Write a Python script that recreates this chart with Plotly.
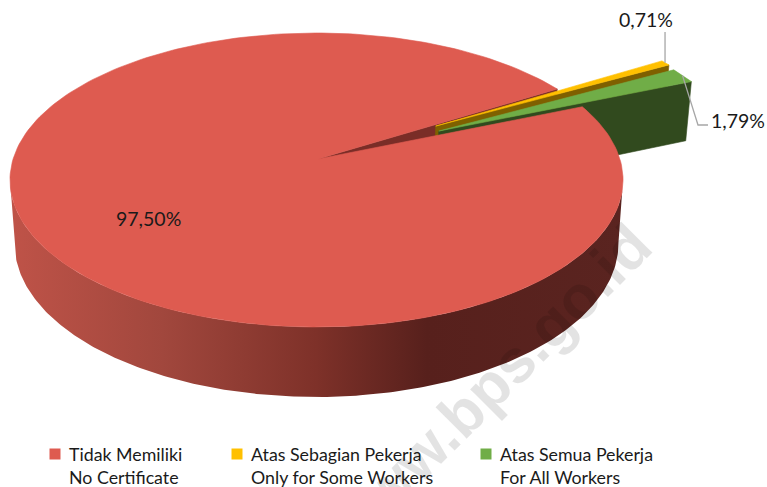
import numpy as np
import plotly.graph_objects as go

# Data
names_id = ["Tidak Memiliki", "Atas Sebagian Pekerja", "Atas Semua Pekerja"]
names_en = ["No Certificate", "Only for Some Workers", "For All Workers"]
values = [97.50, 0.71, 1.79]
top_colors = ["#DE5B50", "#FFC000", "#70AD47"]
cut_colors = ["#7A2D27", "#7F6000", "#314A1E"]
watermark = "www.bps.go.id"

# Projection of the pie's plane onto the page (pixel axes)
CX, CY, A, B, K = 316.5, 159.0, 303.4, 144.0, 1 / 7
SX, SY, DY = 0.985, 1.044, 55.6      # lower face relative to upper face
START = 58.5                         # clock angle where the second slice starts
EXPLODE_Y, EXPLODE_G = 0.47, 0.46
APEX_DX = 1.5                        # the red slice's tip sits slightly right of centre


def top(th, off=(0.0, 0.0)):
    th = np.radians(np.asarray(th, dtype=float))
    u = off[0] + np.sin(th)
    v = off[1] - np.cos(th)
    w = 1 - K * v
    return CX + A * u / w, CY + B * v / w


def to_bottom(x, y):
    return CX + SX * (x - CX), SY * y + DY


def pt0(off, dx=0.0):
    w = 1 - K * off[1]
    return CX + dx + A * off[0] / w, CY + B * off[1] / w


deg = [v / sum(values) * 360 for v in values]
a_y0, a_y1 = START, START + deg[1]
a_g0, a_g1 = a_y1, a_y1 + deg[2]
mid_y, mid_g = (a_y0 + a_y1) / 2, (a_g0 + a_g1) / 2


def offs(m, e):
    r = np.radians(m)
    return e * np.sin(r), -e * np.cos(r)


off_y, off_g = offs(mid_y, EXPLODE_Y), offs(mid_g, EXPLODE_G)


def poly(x, y, color, **kw):
    return go.Scatter(x=list(x), y=list(y), mode="lines", fill="toself", fillcolor=color,
                      line=dict(width=0.6, color=color), hoverinfo="skip", showlegend=False, **kw)


def cut(theta, off, color, dx=0.0):
    ax, ay = pt0(off, dx)
    tx, ty = top([theta], off)
    bax, bay = to_bottom(ax, ay)
    btx, bty = to_bottom(tx[0], ty[0])
    return poly([ax, tx[0], btx, bax, ax], [ay, ty[0], bty, bay, ay], color)


def wedge(t0, t1, off, color, dx=0.0, **kw):
    th = np.linspace(t0, t1, 240)
    x, y = top(th, off)
    ax, ay = pt0(off, dx)
    return poly([ax, *x, ax], [ay, *y, ay], color, **kw)


fig = go.Figure()

# red inner cut face
fig.add_trace(cut(a_y0, (0.0, 0.0), cut_colors[0], APEX_DX))

# red outer side with horizontal shading
th = np.linspace(98, 262, 240)
sx, sy = top(th)
bx, by = to_bottom(sx, sy)
fig.add_trace(go.Scatter(
    x=[*sx, *bx[::-1], sx[0]], y=[*sy, *by[::-1], sy[0]], mode="lines", fill="toself",
    line=dict(width=0), hoverinfo="skip", showlegend=False,
    fillgradient=dict(type="horizontal", colorscale=[
        [0.0, "#BF5348"], [0.25, "#A1473D"], [0.5, "#7E3129"], [0.68, "#57201C"],
        [1.0, "#5A2420"]])))

# exploded slices
fig.add_trace(cut(a_y1, off_y, cut_colors[1]))
fig.add_trace(wedge(a_y0, a_y1, off_y, top_colors[1]))
fig.add_trace(cut(a_g1, off_g, cut_colors[2]))
fig.add_trace(wedge(a_g0, a_g1, off_g, top_colors[2]))

# second subplot, same frame: its shape layer lies over the side walls, its traces over the shape
fig.add_trace(wedge(a_g1, a_y0 + 360, (0.0, 0.0), top_colors[0], APEX_DX, xaxis="x2", yaxis="y2"))

# leader lines
lx, ly = top([mid_y], off_y)
fig.add_trace(go.Scatter(x=[lx[0], lx[0]], y=[ly[0], 32], mode="lines", xaxis="x2", yaxis="y2",
                         line=dict(color="#A6A6A6", width=1.3), hoverinfo="skip", showlegend=False))
gx, gy = top([mid_g], off_g)
fig.add_trace(go.Scatter(x=[gx[0], 698, 708], y=[gy[0], 125, 125], mode="lines", xaxis="x2", yaxis="y2",
                         line=dict(color="#A6A6A6", width=1.3), hoverinfo="skip", showlegend=False))

# legend swatches
leg_x = [55, 237, 486]
fig.add_trace(go.Scatter(x=leg_x, y=[454] * 3, mode="markers", xaxis="x2", yaxis="y2",
                         marker=dict(symbol="square", size=11, color=top_colors, line=dict(width=0)),
                         hoverinfo="skip", showlegend=False))

font = dict(family="Lato, Carlito, sans-serif", size=17.8, color="#1A1A1A")
ann = []
for i, (a, b) in enumerate(zip(names_id, names_en)):
    ann.append(dict(x=leg_x[i] + 12, y=465, xref="x", yref="y", xanchor="left", yanchor="middle",
                    align="left", text=f"{a}<br>{b}", showarrow=False, font=font))
labels = [f"{v:.2f}".replace(".", ",") + "%" for v in values]
for t, x, y in zip(labels, [148.5, 646, 738], [218, 19, 120]):
    ann.append(dict(x=x, y=y, xref="x", yref="y", text=t, showarrow=False,
                    font=dict(family=font["family"], size=19.5, color="#1A1A1A")))

axis = dict(visible=False, fixedrange=True)
fig.update_layout(
    width=767, height=487, margin=dict(l=0, r=0, t=0, b=0),
    paper_bgcolor="rgba(0,0,0,0)", plot_bgcolor="rgba(0,0,0,0)", showlegend=False,
    xaxis=dict(range=[0, 767], domain=[0, 1], anchor="y", **axis),
    yaxis=dict(range=[487, 0], domain=[0, 1], anchor="x", **axis),
    xaxis2=dict(range=[0, 767], domain=[0, 1], anchor="y2", **axis),
    yaxis2=dict(range=[487, 0], domain=[0, 1], anchor="x2", **axis),
    annotations=ann,
    shapes=[dict(type="rect", xref="x2", yref="y2", x0=295, x1=675, y0=192, y1=572, layer="below",
                 line=dict(width=0), fillcolor="rgba(0,0,0,0)",
                 label=dict(text=watermark, textangle=-45, textposition="middle center",
                            font=dict(family="Liberation Sans", size=61, color="rgba(0,0,0,0.11)",
                                      weight="bold")))],
)
fig.write_html("out.html", config={"displayModeBar": False},
               post_script="document.body.style.margin='0';")
